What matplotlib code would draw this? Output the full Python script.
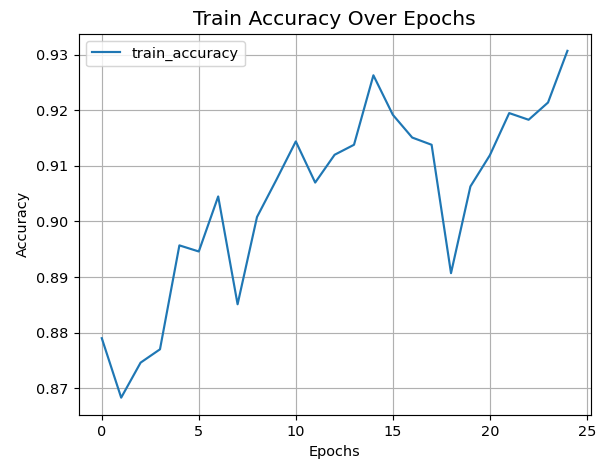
import matplotlib
matplotlib.use("Agg")
import matplotlib.pyplot as plt

epochs = list(range(25))
train_accuracy = [0.8790, 0.8683, 0.8746, 0.8770, 0.8957, 0.8946, 0.9045, 0.8851,
                  0.9008, 0.9075, 0.9144, 0.9070, 0.9120, 0.9138, 0.9263, 0.9192,
                  0.9151, 0.9138, 0.8907, 0.9063, 0.9119, 0.9195, 0.9183, 0.9214,
                  0.9307]

DPI = 104
fig = plt.figure(figsize=(602/DPI, 459/DPI), dpi=DPI)
ax = fig.add_axes([78.5/602, 1 - 415/459, (590.7-78.5)/602, (415-33.5)/459])
ax.plot(epochs, train_accuracy, label="train_accuracy")
ax.set_title("Train Accuracy Over Epochs", fontsize=14)
ax.set_xlabel("Epochs")
ax.set_ylabel("Accuracy")
ax.grid(True)
ax.legend(loc="upper left")
fig.savefig("out.png", dpi=DPI)
